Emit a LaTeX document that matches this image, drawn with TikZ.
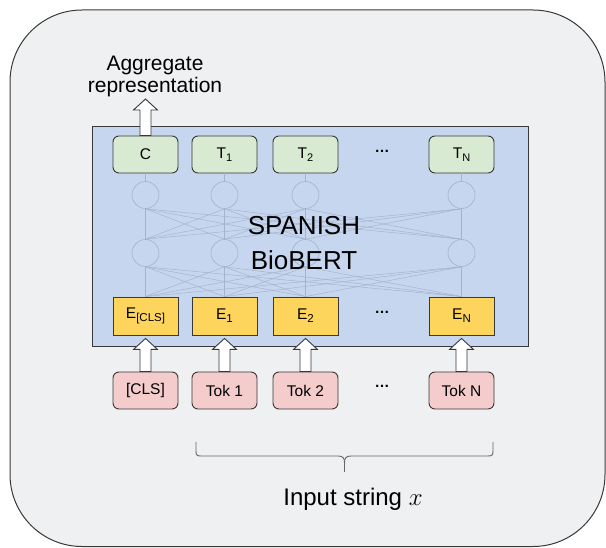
\documentclass[tikz,border=0pt]{standalone}
\usepackage{fontspec}
\setmainfont{Liberation Sans}
\usetikzlibrary{calc}
\definecolor{bgc}{HTML}{EFF0F2}
\definecolor{bluec}{HTML}{C6D6EE}
\definecolor{greenc}{HTML}{D9EAD3}
\definecolor{yellowc}{HTML}{FDD45C}
\definecolor{pinkc}{HTML}{F4CCCC}
\definecolor{netc}{HTML}{A3B2CD}
\definecolor{edgec}{HTML}{383838}
\newcommand\myblockarrow[2]{%
  \draw[draw=edgec, fill=white, line width=0.9pt] let \p1=(#1), \p2=(#2) in
    (\x1-5.5pt,\y1) -- (\x1-5.5pt,\y2-11pt) -- (\x1-12pt,\y2-11pt) -- (\x1,\y2)
    -- (\x1+12pt,\y2-11pt) -- (\x1+5.5pt,\y2-11pt) -- (\x1+5.5pt,\y1) -- cycle;}
\tikzset{
  boxbase/.style={draw=edgec, line width=0.9pt, minimum width=65pt, inner sep=0pt,
    font=\fontsize{15.5}{17}\selectfont},
  outbox/.style={boxbase, rounded corners=6pt, fill=greenc, minimum height=37pt},
  embbox/.style={boxbase, fill=yellowc, minimum height=38pt},
  tokbox/.style={boxbase, rounded corners=6pt, fill=pinkc, minimum height=37pt},
  neuron/.style={circle, draw=netc, line width=0.6pt, minimum size=27pt, inner sep=0pt},
  nline/.style={draw=netc, line width=0.45pt},
  dots/.style={font=\fontsize{15}{17}\selectfont\bfseries, inner sep=0pt},
}
\begin{document}
\begin{tikzpicture}[x=1pt,y=-1pt]
\useasboundingbox (0,0) rectangle (606,548);
\draw[rounded corners=72pt, fill=bgc, draw=edgec, line width=1pt] (10,10) rectangle (605,546.5);
\node[draw=edgec, fill=bluec, line width=1pt, minimum width=436pt, minimum height=220pt, inner sep=0pt] (bert) at (310,237) {};
% neurons
\foreach \n/\x in {1/145.5,2/224.5,3/305.5,4/461.5}{
  \node[neuron] (a\n) at (\x,195) {};
  \node[neuron] (b\n) at (\x,253) {};
}
\node[outbox] (o1) at (145.5,154.5) {C};
\node[outbox] (o2) at (224.5,154.5) {T\raisebox{-0.35ex}{\fontsize{11}{11}\selectfont 1}};
\node[outbox] (o3) at (305.5,154.5) {T\raisebox{-0.35ex}{\fontsize{11}{11}\selectfont 2}};
\node[outbox] (o4) at (461.5,154.5) {T\raisebox{-0.35ex}{\fontsize{11}{11}\selectfont N}};
\node[embbox] (e1) at (145.5,316) {E\raisebox{-0.35ex}{\fontsize{11.5}{11}\selectfont [CLS]}};
\node[embbox] (e2) at (224.5,316) {E\raisebox{-0.35ex}{\fontsize{11.5}{11}\selectfont 1}};
\node[embbox] (e3) at (305.5,316) {E\raisebox{-0.35ex}{\fontsize{11.5}{11}\selectfont 2}};
\node[embbox] (e4) at (461.5,316) {E\raisebox{-0.35ex}{\fontsize{11.5}{11}\selectfont N}};
\node[tokbox] (k1) at (145.5,390.5) {[CLS]};
\node[tokbox] (k2) at (224.5,390.5) {Tok 1};
\node[tokbox] (k3) at (305.5,390.5) {Tok 2};
\node[tokbox] (k4) at (461.5,390.5) {Tok N};
% network lines
\foreach \i in {1,...,4}{
  \draw[nline] (o\i.south) -- (a\i.north);
  \draw[nline] (a\i.south) -- (b\i.north);
  \draw[nline] (b\i.south) -- (e\i.north);
  \foreach \j in {1,...,4}{
    \ifnum\i=\j\relax\else
      \draw[nline] (a\i.south) -- (b\j.north);
      \draw[nline] (b\i.south) -- (e\j.north);
    \fi
  }
}
% dots
\node[dots] (d1) at (382,151) {…};
\node[dots] (d2) at (382,312) {…};
\node[dots] (d3) at (382,386) {…};
% texts
\node[align=center, font=\fontsize{26}{35}\selectfont, inner sep=0pt] (title) at (304,243) {SPANISH\\BioBERT};
\node[align=center, font=\fontsize{21}{22}\selectfont, inner sep=0pt] (agg) at (155,76) {Aggregate\\representation};
% arrows
\coordinate (aggtip) at (145.5,99);
\myblockarrow{o1.north}{aggtip}
\foreach \i in {1,...,4}{
  \coordinate (tip\i) at ($(e\i.south)+(0,3)$);
  \myblockarrow{k\i.north}{tip\i}
}
% brace
\coordinate (bl) at (196,442);
\coordinate (br) at (493,442);
\coordinate (bm) at (344.5,472);
\draw[draw=black!60, line width=0.9pt] (bl) -- (196,451) .. controls (196,455) and (197,456) .. (201,456)
  -- (338,456) .. controls (343,456) and (344.5,458) .. (344.5,463) -- (bm);
\draw[draw=black!60, line width=0.9pt] (br) -- (493,451) .. controls (493,455) and (492,456) .. (488,456)
  -- (351,456) .. controls (346,456) and (344.5,458) .. (344.5,463);
\node[font=\fontsize{24}{26}\selectfont, inner sep=0pt] (inp) at (353,499) {Input string $x$};
\end{tikzpicture}
\end{document}
